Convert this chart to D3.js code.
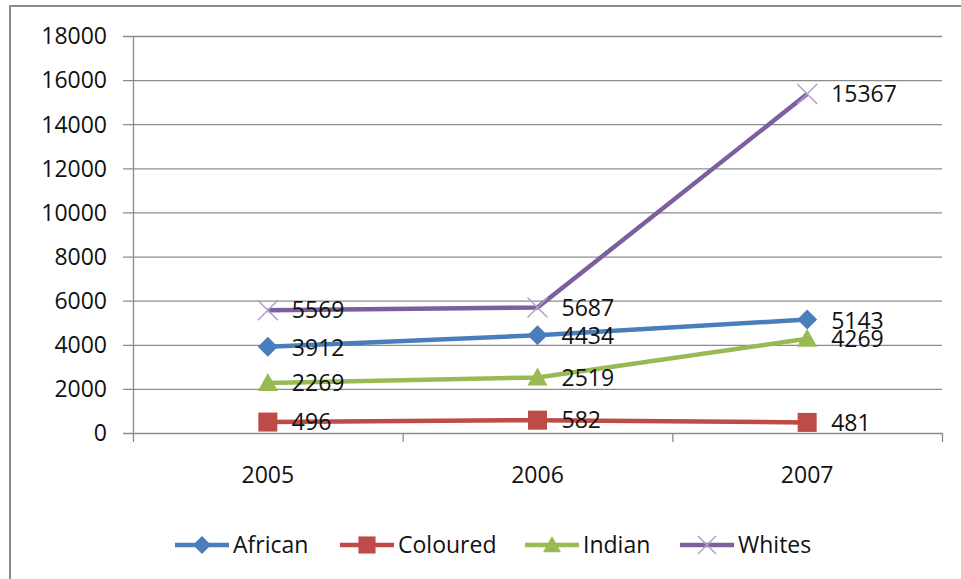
<!DOCTYPE html>
<html>
<head>
<meta charset="utf-8">
<script src="https://cdn.jsdelivr.net/npm/d3@7"></script>
<style>
body { margin: 0; background: #fff; }
text { font-family: "Open Sans", Lato, sans-serif; fill: #111; }
</style>
</head>
<body>
<script>
// chart data
var years = ["2005", "2006", "2007"];
var seriesNames = ["African", "Coloured", "Indian", "Whites"];
var african = [3912, 4434, 5143];
var coloured = [496, 582, 481];
var indian = [2269, 2519, 4269];
var whites = [5569, 5687, 15367];
var yTicks = [0, 2000, 4000, 6000, 8000, 10000, 12000, 14000, 16000, 18000];

var colors = ["#4a7ebb", "#be4b48", "#98b954", "#7d5fa0"];
var shapes = ["diamond", "square", "triangle", "cross"];
var values = [african, coloured, indian, whites];

var W = 961, H = 579;
var svg = d3.select("body").append("svg")
    .attr("width", W).attr("height", H);

// outer frame
svg.append("rect")
    .attr("x", 10).attr("y", 6)
    .attr("width", 1000).attr("height", 700)
    .attr("fill", "none").attr("stroke", "#8a8a8a").attr("stroke-width", 2);

var x = d3.scaleBand().domain(years).range([133, 942]);
var y = d3.scaleLinear().domain([0, 18000]).range([433, 36]);

// gridlines + y ticks
svg.append("g").selectAll("line").data(yTicks).enter().append("line")
    .attr("x1", 123).attr("x2", 942)
    .attr("y1", d => y(d) + 0.5).attr("y2", d => y(d) + 0.5)
    .attr("stroke", "#8c8c8c").attr("stroke-width", 1.3);

svg.append("g").selectAll("text").data(yTicks).enter().append("text")
    .attr("x", 107).attr("y", d => y(d))
    .attr("dy", "0.36em")
    .attr("text-anchor", "end")
    .attr("font-size", 23)
    .text(d => d);

// y axis line
svg.append("line")
    .attr("x1", 133.5).attr("x2", 133.5)
    .attr("y1", y(18000)).attr("y2", 442)
    .attr("stroke", "#8c8c8c").attr("stroke-width", 1.3);

// category ticks
var bounds = years.map(d => x(d) + x.bandwidth());
svg.append("g").selectAll("line").data(bounds).enter().append("line")
    .attr("x1", d => d + 0.5).attr("x2", d => d + 0.5)
    .attr("y1", y(0)).attr("y2", 442)
    .attr("stroke", "#8c8c8c").attr("stroke-width", 1.3);

svg.append("g").selectAll("text").data(years).enter().append("text")
    .attr("x", d => x(d) + x.bandwidth() / 2)
    .attr("y", 475).attr("dy", "0.36em")
    .attr("text-anchor", "middle")
    .attr("font-size", 23)
    .text(d => d);

function marker(g, shape, cx, cy, color, s) {
    if (shape == "diamond") {
        g.append("path")
            .attr("d", "M" + cx + "," + (cy - s) + "L" + (cx + s) + "," + cy + "L" + cx + "," + (cy + s) + "L" + (cx - s) + "," + cy + "Z")
            .attr("fill", color);
    } else if (shape == "square") {
        g.append("rect")
            .attr("x", cx - s * 0.95).attr("y", cy - s * 0.95)
            .attr("width", s * 1.9).attr("height", s * 1.9)
            .attr("fill", color);
    } else if (shape == "triangle") {
        g.append("path")
            .attr("d", "M" + cx + "," + (cy - s) + "L" + (cx + s) + "," + (cy + s * 0.8) + "L" + (cx - s) + "," + (cy + s * 0.8) + "Z")
            .attr("fill", color);
    } else {
        g.append("path")
            .attr("d", "M" + (cx - s) + "," + (cy - s) + "L" + (cx + s) + "," + (cy + s) + "M" + (cx + s) + "," + (cy - s) + "L" + (cx - s) + "," + (cy + s))
            .attr("stroke", "#b09fc8").attr("stroke-width", 1.5).attr("fill", "none");
    }
}

var line = d3.line()
    .x((d, i) => x(years[i]) + x.bandwidth() / 2)
    .y(d => y(d));

values.forEach(function (vals, k) {
    var g = svg.append("g");
    g.append("path").datum(vals)
        .attr("d", line)
        .attr("fill", "none")
        .attr("stroke", colors[k])
        .attr("stroke-width", 4.5)
        .attr("stroke-linejoin", "round");
    vals.forEach(function (v, i) {
        marker(g, shapes[k], x(years[i]) + x.bandwidth() / 2, y(v), colors[k], 10);
    });
});

// data labels on top
values.forEach(function (vals, k) {
    svg.append("g").selectAll("text").data(vals).enter().append("text")
        .attr("x", (d, i) => x(years[i]) + x.bandwidth() / 2 + 24)
        .attr("y", d => y(d) + (k == 0 ? 1 : 0))
        .attr("dy", "0.36em")
        .attr("font-size", 23)
        .text(d => d);
});

// legend
var legX = [175, 340, 525, 680];
var legY = 545;
seriesNames.forEach(function (name, k) {
    var g = svg.append("g");
    g.append("line")
        .attr("x1", legX[k]).attr("x2", legX[k] + 54)
        .attr("y1", legY).attr("y2", legY)
        .attr("stroke", colors[k]).attr("stroke-width", 4.5);
    marker(g, shapes[k], legX[k] + 27, legY, colors[k], 9);
    g.append("text")
        .attr("x", legX[k] + 58).attr("y", legY)
        .attr("dy", "0.36em")
        .attr("font-size", 23)
        .text(name);
});
</script>
</body>
</html>
